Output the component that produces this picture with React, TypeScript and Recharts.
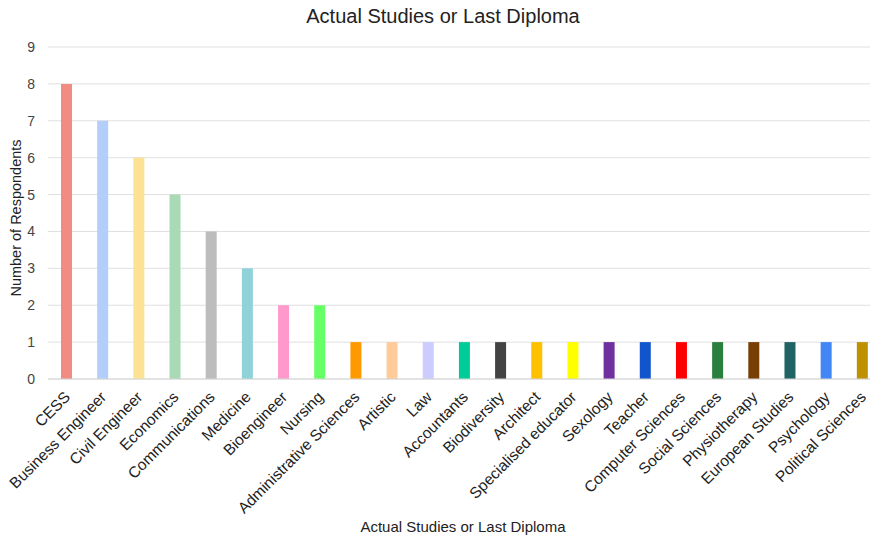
import { BarChart, Bar, XAxis, YAxis, CartesianGrid, Cell, Label } from "recharts";

const categories = [
  "CESS",
  "Business Engineer",
  "Civil Engineer",
  "Economics",
  "Communications",
  "Medicine",
  "Bioengineer",
  "Nursing",
  "Administrative Sciences",
  "Artistic",
  "Law",
  "Accountants",
  "Biodiversity",
  "Architect",
  "Specialised educator",
  "Sexology",
  "Teacher",
  "Computer Sciences",
  "Social Sciences",
  "Physiotherapy",
  "European Studies",
  "Psychology",
  "Political Sciences",
];

const respondents = [8, 7, 6, 5, 4, 3, 2, 2, 1, 1, 1, 1, 1, 1, 1, 1, 1, 1, 1, 1, 1, 1, 1];

const barColors = [
  "#f28b82",
  "#b3cefb",
  "#fde293",
  "#a8dab5",
  "#bdbdbd",
  "#8fd3d9",
  "#ff99cc",
  "#66ff66",
  "#ff9900",
  "#ffcc99",
  "#ccccff",
  "#00cc99",
  "#434343",
  "#ffc000",
  "#ffff00",
  "#7030a0",
  "#1155cc",
  "#ff0000",
  "#2a7e3e",
  "#783f04",
  "#1f6363",
  "#4285f4",
  "#bf9000",
];

const yTicks = [0, 1, 2, 3, 4, 5, 6, 7, 8, 9];

const data = categories.map((name, i) => ({ name, value: respondents[i] }));

const FONT = "'Liberation Sans', Arial, sans-serif";

function RotatedTick({ x, y, payload }: { x?: number; y?: number; payload?: { value: string } }) {
  return (
    <g transform={`translate(${x},${y})`}>
      <text
        x={5}
        y={11}
        transform="rotate(-45 5 11)"
        textAnchor="end"
        fill="#222"
        fontSize={15.5}
        fontFamily={FONT}
      >
        {payload?.value}
      </text>
    </g>
  );
}

export default function App() {
  return (
    <div
      style={{
        position: "fixed",
        left: 0,
        top: 0,
        width: 870,
        height: 538,
        overflow: "hidden",
        background: "#fff",
        fontFamily: FONT,
      }}
    >
      <div
        style={{
          position: "absolute",
          left: 0,
          width: 886,
          top: 5,
          textAlign: "center",
          fontSize: 20,
          color: "#222",
        }}
      >
        Actual Studies or Last Diploma
      </div>
      <BarChart
        width={882}
        height={538}
        data={data}
        margin={{ top: 47, right: 2, bottom: 0, left: 0 }}
      >
        <CartesianGrid stroke="#e0e0e0" vertical={false} />
        <XAxis
          dataKey="name"
          interval={0}
          height={159}
          tick={<RotatedTick />}
          tickLine={false}
          axisLine={{ stroke: "#d6d6d6" }}
        >
          <Label
            content={() => (
              <text x={463} y={532} textAnchor="middle" fill="#222" fontSize={15} fontFamily={FONT}>
                Actual Studies or Last Diploma
              </text>
            )}
          />
        </XAxis>
        <YAxis
          width={48}
          domain={[0, 9]}
          ticks={yTicks}
          interval={0}
          tickLine={false}
          axisLine={false}
          tickMargin={7}
          tick={{ fill: "#444", fontSize: 14, fontFamily: FONT }}
        >
          <Label
            content={() => (
              <text
                x={16}
                y={218}
                transform="rotate(-90 16 218)"
                textAnchor="middle"
                dominantBaseline="central"
                fill="#222"
                fontSize={14.5}
                fontFamily={FONT}
              >
                Number of Respondents
              </text>
            )}
          />
        </YAxis>
        <Bar dataKey="value" barSize={11} isAnimationActive={false}>
          {data.map((d, i) => (
            <Cell key={d.name} fill={barColors[i]} />
          ))}
        </Bar>
      </BarChart>
    </div>
  );
}
